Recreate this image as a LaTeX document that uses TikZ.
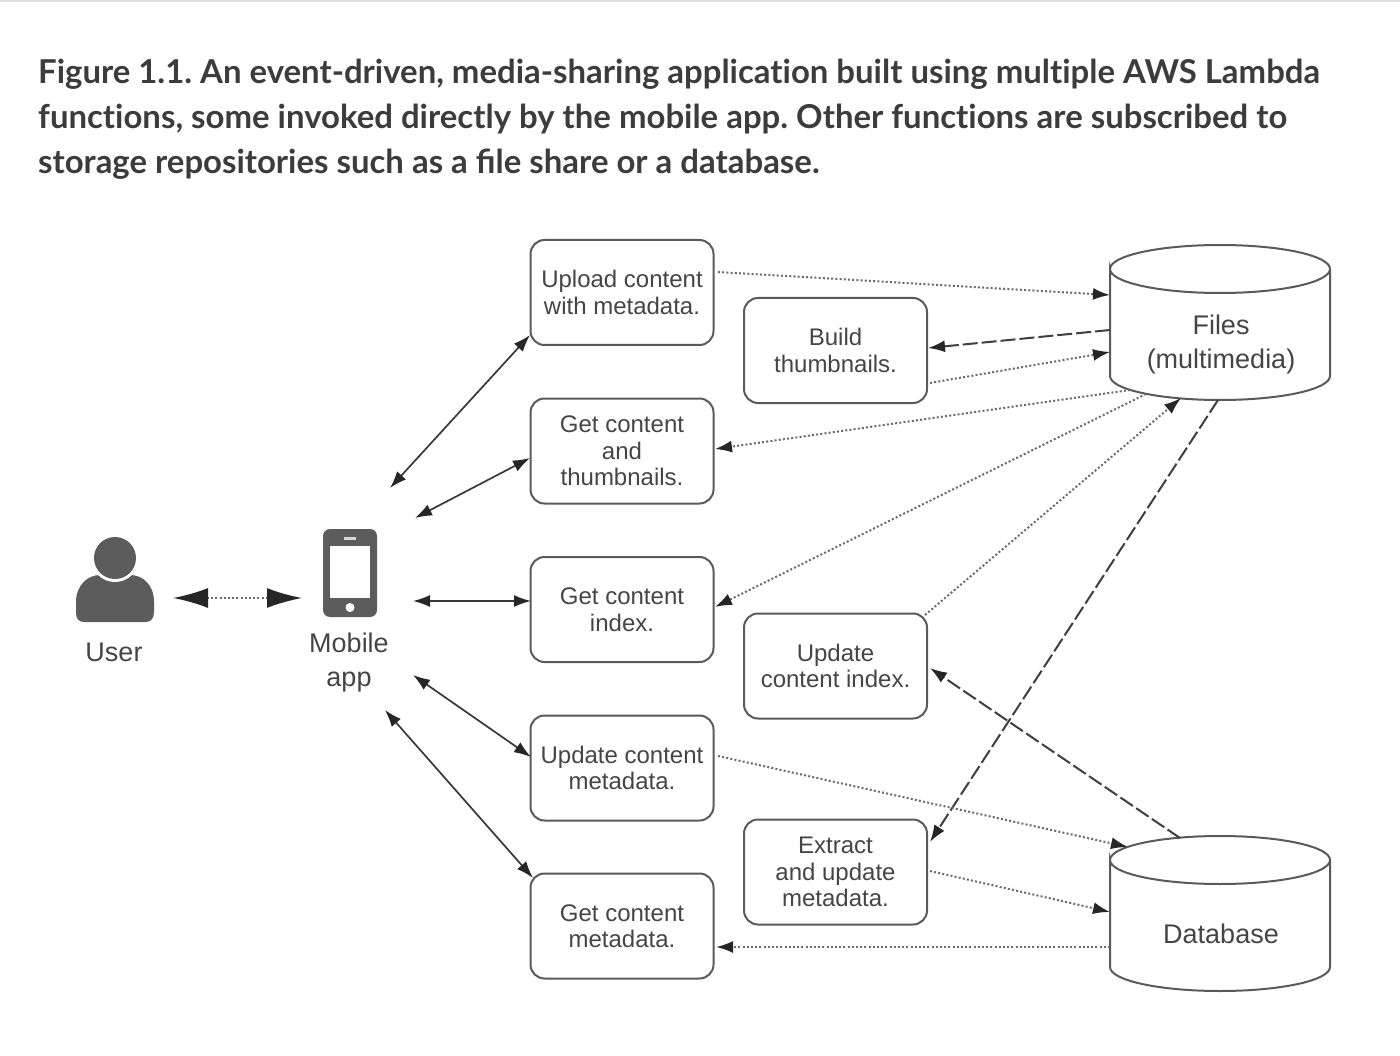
\documentclass[tikz,border=0pt]{standalone}
\usepackage{fontspec}
\setmainfont{Liberation Sans}
\newfontfamily\titlefont{Lato}
\usetikzlibrary{arrows.meta}
\frenchspacing
\definecolor{ink}{HTML}{454545}
\definecolor{titleink}{HTML}{3C3C3C}
\definecolor{linec}{HTML}{5A5A5A}
\definecolor{icon}{HTML}{5C5C5C}
\definecolor{tipc}{HTML}{262626}
\newcommand{\nolig}{\kern0pt }
\newcommand{\storeshape}[1]{%
  \draw[storeline,shift={(#1.center)}] (-110,-53.5) .. controls (-110,-66.8) and (-61,-77.5) .. (0,-77.5) .. controls (61,-77.5) and (110,-66.8) .. (110,-53.5) .. controls (110,-40.2) and (61,-29.5) .. (0,-29.5) .. controls (-61,-29.5) and (-110,-40.2) .. (-110,-53.5) -- (-110,53.5) .. controls (-110,66.8) and (-61,77.5) .. (0,77.5) .. controls (61,77.5) and (110,66.8) .. (110,53.5) -- (110,-53.5);}
\tikzset{
  x=1pt,y=-1pt,
  fnbox/.style={draw=linec,line width=2pt,rounded corners=14pt,minimum width=183pt,minimum height=105pt,inner sep=0pt,align=center,text=ink,font=\fontsize{24}{26.5}\selectfont},
  store/.style={minimum width=220pt,minimum height=155pt,inner sep=0pt,outer sep=0pt},
  storeline/.style={draw=linec,line width=2pt},
  lbl/.style={text=ink,align=center,inner sep=0pt,font=\fontsize{27}{34}\selectfont},
  captionline/.style={anchor=west,inner sep=0pt,text=titleink,font=\titlefont\bfseries\fontsize{32.9}{45}\selectfont},
  dotline/.style={draw=linec!90,line width=2pt,dash pattern=on 2pt off 2.2pt},
  dashline/.style={draw=linec!70!black,line width=2pt,dash pattern=on 15pt off 4pt},
  solidline/.style={draw=black!78,line width=1.7pt},
  tipa/.style={-{Latex[length=17pt,width=12pt,color=tipc]}},
  tipb/.style={{Latex[length=17pt,width=12pt,color=tipc]}-{Latex[length=17pt,width=12pt,color=tipc]}},
  tipbig/.style={{Latex[length=35pt,width=20pt,color=tipc]}-{Latex[length=35pt,width=20pt,color=tipc]}}
}
\begin{document}
\begin{tikzpicture}
\useasboundingbox (0,0) rectangle (1400,1056);
\fill[white] (0,0) rectangle (1400,1056);
\draw[black!12,line width=2.5pt] (0,1) -- (1400,1);
% caption
\node[captionline] (t1) at (38,74) {Figure 1.1. An event-driven, media-sharing applicat\nolig ion built using mult\nolig iple AWS Lambda};
\node[captionline] (t2) at (38,119) {funct\nolig ions, some invoked directly by the mobile app. Other funct\nolig ions are subscribed to};
\node[captionline] (t3) at (38,164) {storage repositories such as a file share or a database.};
% function boxes
\node[fnbox] (upload) at (622,292.5) {Upload content\\with metadata.};
\node[fnbox] (getthumb) at (622,451) {Get content\\and\\thumbnails.};
\node[fnbox] (getindex) at (622,609.5) {Get content\\index.};
\node[fnbox] (updmeta) at (622,768) {Update content\\metadata.};
\node[fnbox] (getmeta) at (622,926) {Get content\\metadata.};
\node[fnbox] (build) at (835.5,350.5) {Build\\thumbnails.};
\node[fnbox] (updindex) at (835.5,666) {Update\\content index.};
\node[fnbox] (extract) at (835.5,872) {Extract\\and update\\metadata.};
% stores
\node[store] (files) at (1220,322.5) {};
\node[store] (db) at (1220,913.5) {};
\storeshape{files}
\storeshape{db}
\node[lbl] (fileslbl) at (1221,345) {Files\\(multimedia)};
\node[lbl] (dblbl) at (1221,934) {Database};
% user icon
\fill[icon] (84,622) .. controls (78,622) and (76,618) .. (76,612) -- (76,602) .. controls (76,585) and (88,575) .. (100,575) -- (130,575) .. controls (143,575) and (154,585) .. (154,602) -- (154,612) .. controls (154,618) and (151,622) .. (146,622) -- cycle;
\node[circle,fill=white,minimum size=48pt,inner sep=0pt] (usergap) at (115,558) {};
\node[circle,fill=icon,minimum size=42pt,inner sep=0pt] (userhead) at (115,558) {};
\node[lbl] (user) at (114,652) {User};
% phone icon
\node[fill=icon,rounded corners=7pt,minimum width=54pt,minimum height=88pt,inner sep=0pt] (phone) at (350,573) {};
\node[fill=white,minimum width=40pt,minimum height=52pt,inner sep=0pt] (screen) at (350,572) {};
\node[fill=white!75!icon,minimum width=12pt,minimum height=2.5pt,inner sep=0pt] (speaker) at (350,538.5) {};
\node[circle,fill=white,minimum size=9pt,inner sep=0pt] (homebtn) at (350,607.5) {};
\node[lbl] (mobile) at (349,662.5) {Mobile\\app};
% connector ends
\coordinate (ua) at (173,598);
\coordinate (ma) at (302,598);
\coordinate (m1) at (390,488);
\coordinate (m2) at (415,518);
\coordinate (m3) at (413,601);
\coordinate (m4) at (413,675);
\coordinate (m5) at (385,710);
\coordinate (u1) at (530,335);
\coordinate (g1) at (530,458);
\coordinate (i1) at (531,601);
\coordinate (um1) at (531,757);
\coordinate (gm1) at (533,878);
\coordinate (uo) at (718,272);
\coordinate (fa) at (1110,295);
\coordinate (fb) at (1110,330);
\coordinate (bb) at (928,348);
\coordinate (bo) at (930,383);
\coordinate (fc) at (1110,352);
\coordinate (fd) at (1130,390);
\coordinate (gt) at (715,449);
\coordinate (fe) at (1146,394);
\coordinate (gi) at (715,607);
\coordinate (ui) at (925,615);
\coordinate (ff) at (1181,398);
\coordinate (fg) at (1218,400);
\coordinate (ex) at (930,842);
\coordinate (da) at (1180,838);
\coordinate (ui2) at (930,668);
\coordinate (umo) at (718,756);
\coordinate (db2) at (1128,847);
\coordinate (exo) at (930,871);
\coordinate (db3) at (1110,912);
\coordinate (db4) at (1110,947);
\coordinate (gm2) at (716,947);
% connectors
\draw[dotline,tipbig] (ua) -- (ma);
\draw[solidline,tipb] (m1) -- (u1);
\draw[solidline,tipb] (m2) -- (g1);
\draw[solidline,tipb] (m3) -- (i1);
\draw[solidline,tipb] (m4) -- (um1);
\draw[solidline,tipb] (m5) -- (gm1);
\draw[dotline,tipa] (uo) -- (fa);
\draw[dashline,tipa] (fb) -- (bb);
\draw[dotline,tipa] (bo) -- (fc);
\draw[dotline,tipa] (fd) -- (gt);
\draw[dotline,tipa] (fe) -- (gi);
\draw[dotline,tipa] (ui) -- (ff);
\draw[dashline,tipa] (fg) -- (ex);
\draw[dashline,tipa] (da) -- (ui2);
\draw[dotline,tipa] (umo) -- (db2);
\draw[dotline,tipa] (exo) -- (db3);
\draw[dotline,tipa] (db4) -- (gm2);
\end{tikzpicture}
\end{document}
